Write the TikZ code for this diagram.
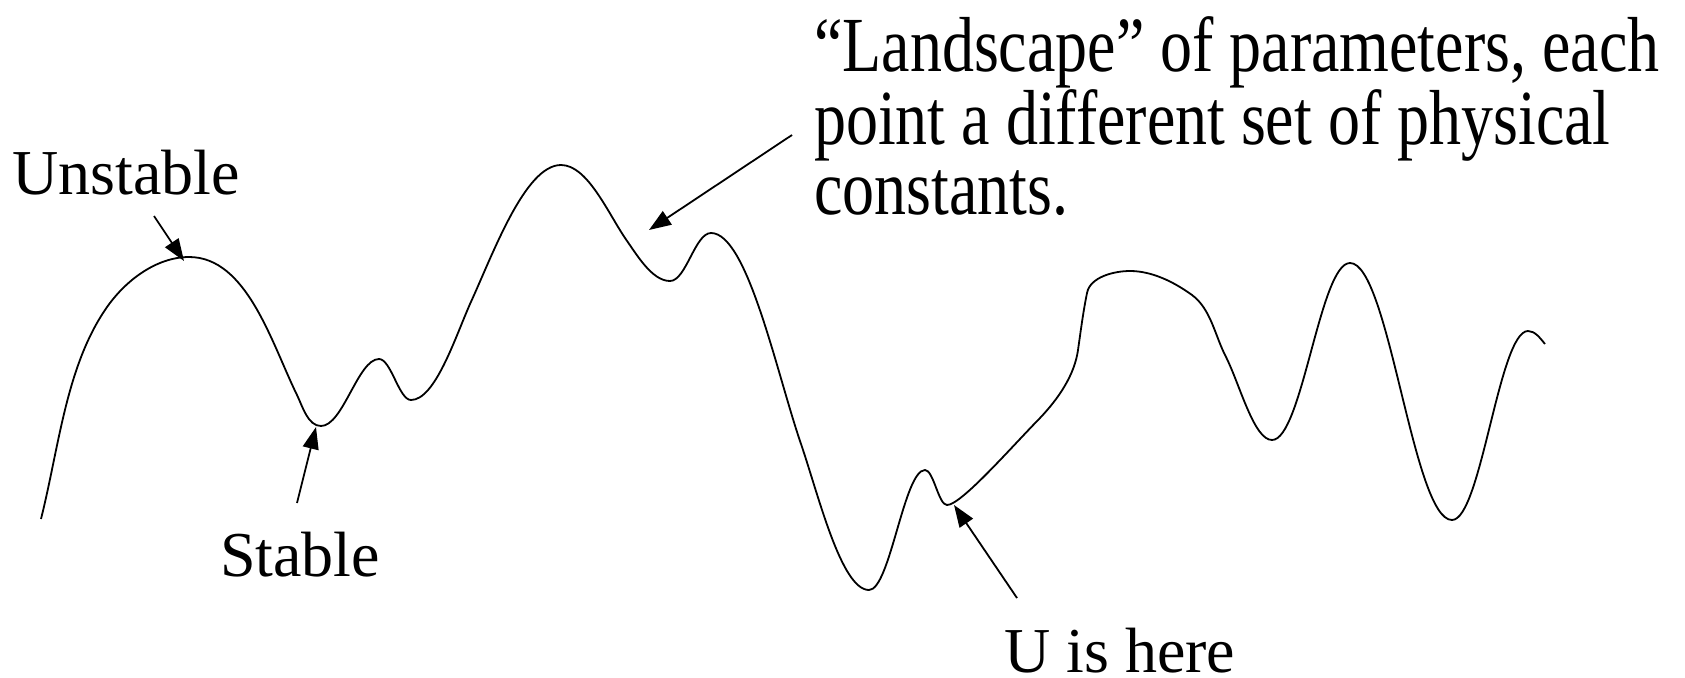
\documentclass[tikz,border=0pt]{standalone}
\usepackage{fontspec}
\setmainfont{Liberation Serif}
\newfontfamily\narrowserif[FakeStretch=0.82]{Liberation Serif}
\usetikzlibrary{arrows.meta}
\begin{document}
\begin{tikzpicture}[x=1pt,y=-1pt,
  curve/.style={line width=1.8pt,line join=round},
  pointer/.style={line width=1.8pt,-{Triangle[length=22pt,width=16pt]}},
  label/.style={inner sep=0pt,font=\fontsize{64}{72}\selectfont,anchor=base west},
  bigtext/.style={inner sep=0pt,font=\narrowserif\fontsize{78}{70}\selectfont,align=left,anchor=base west}]
\useasboundingbox (0,0) rectangle (1685,677);
% landscape curve
\draw[curve] (41,519)
  .. controls (59,447) and (66,368) .. (105,310)
  .. controls (125,280) and (157,257) .. (189,257)
  .. controls (247,257) and (271.5,343) .. (297,395)
  .. controls (302.7,406.9) and (308,426) .. (321,426)
  .. controls (343,426) and (358,359) .. (379,359)
  .. controls (391,359) and (399,400) .. (411,400)
  .. controls (435,400) and (455,338) .. (470,304)
  .. controls (493,254) and (525,165) .. (561,165)
  .. controls (587,165) and (607,211) .. (625,238)
  .. controls (637,255) and (652,281) .. (670,281)
  .. controls (686,281) and (695,233) .. (711,233)
  .. controls (747,233) and (776,370) .. (800,441)
  .. controls (818,493) and (841,590) .. (869,590)
  .. controls (890,590) and (904,470) .. (925,470)
  .. controls (933.5,470) and (938.5,505) .. (947,505)
  .. controls (961,505) and (1010.6,448) .. (1040,418)
  .. controls (1058,399) and (1074.4,375.7) .. (1078,350)
  .. controls (1080.7,331) and (1083.2,311.6) .. (1087,293)
  .. controls (1090,277) and (1114,271) .. (1130,271)
  .. controls (1152,271) and (1174,282) .. (1192,295)
  .. controls (1211,309) and (1215,336) .. (1226,357)
  .. controls (1240,385) and (1254,440) .. (1272,440)
  .. controls (1302,440) and (1320,263) .. (1350,263)
  .. controls (1389,263) and (1413,520) .. (1452,520)
  .. controls (1481,520) and (1499,331) .. (1528,331)
  .. controls (1535,331) and (1540,338) .. (1545,344);
% points on the curve
\coordinate (peakpt) at (184,261);
\coordinate (valleypt) at (316,427);
\coordinate (slopept) at (649,230);
\coordinate (herept) at (954,505);
% labels
\node[label] (unstable) at (12,194) {Unstable};
\node[label] (stable) at (220,576) {Stable};
\node[label] (here) at (1004,672) {U is here};
\node[bigtext] (landscape) at (814,214) {“Landscape” of parameters, each\\point a different set of physical\\constants.};
% arrow tails
\coordinate (unstabletail) at (154,216);
\coordinate (stabletail) at (297,503);
\coordinate (landscapetail) at (792,135);
\coordinate (heretail) at (1017,598);
% arrows
\draw[pointer] (unstabletail) -- (peakpt);
\draw[pointer] (stabletail) -- (valleypt);
\draw[pointer] (landscapetail) -- (slopept);
\draw[pointer] (heretail) -- (herept);
\end{tikzpicture}
\end{document}
